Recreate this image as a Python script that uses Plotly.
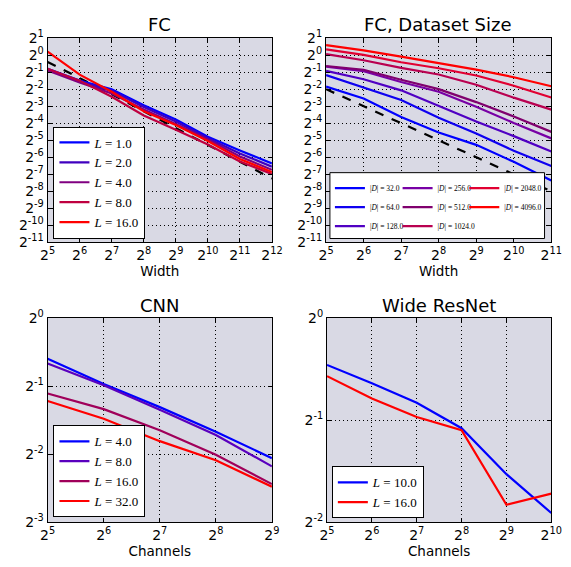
import numpy as np
import plotly.graph_objects as go

# ---------------- data (loss values read as log2 exponents) ----------------
fc_width = [32, 64, 128, 256, 512, 1024, 2048, 4096]
fc_L1 = [-0.80, -1.50, -2.00, -2.95, -3.78, -4.80, -5.60, -6.36]
fc_L2 = [-0.85, -1.55, -2.10, -3.05, -3.90, -4.88, -5.78, -6.55]
fc_L4 = [-0.90, -1.60, -2.25, -3.20, -4.05, -4.95, -5.95, -6.74]
fc_L8 = [-0.80, -1.50, -2.45, -3.55, -4.38, -5.25, -6.25, -6.98]
fc_L16 = [0.20, -1.15, -2.15, -3.30, -4.10, -5.05, -6.10, -6.87]
fc_ref = [-0.40, -1.35, -2.30, -3.30, -4.30, -5.25, -6.25, -7.25]
fc_labels = ["1.0", "2.0", "4.0", "8.0", "16.0"]

ds_width = [32, 64, 128, 256, 512, 1024, 2048]
ds_D32 = [-1.85, -2.55, -3.64, -4.55, -5.27, -6.27, -7.36]
ds_D64 = [-1.17, -1.92, -2.64, -3.68, -4.61, -5.62, -6.51]
ds_D128 = [-0.92, -1.42, -2.07, -3.00, -3.90, -4.76, -5.66]
ds_D256 = [-0.68, -0.94, -1.58, -2.15, -3.03, -3.99, -4.89]
ds_D512 = [-0.64, -0.86, -1.45, -2.00, -2.76, -3.60, -4.51]
ds_D1024 = [0.06, -0.30, -0.75, -1.14, -1.74, -2.50, -3.20]
ds_D2048 = [0.34, 0.01, -0.42, -0.77, -1.20, -1.80, -2.49]
ds_D4096 = [0.585, 0.28, -0.09, -0.47, -0.85, -1.30, -1.83]
ds_ref = [-2, -3, -4, -5, -6, -7, -8]
ds_labels = ["32.0", "64.0", "128.0", "256.0", "512.0", "1024.0", "2048.0", "4096.0"]

cnn_channels = [32, 64, 128, 256, 512]
cnn_L4 = [-0.60, -0.97, -1.31, -1.67, -2.06]
cnn_L8 = [-0.67, -0.99, -1.35, -1.72, -2.18]
cnn_L16 = [-1.11, -1.34, -1.65, -2.01, -2.44]
cnn_L32 = [-1.22, -1.48, -1.81, -2.09, -2.48]
cnn_labels = ["4.0", "8.0", "16.0", "32.0"]

wrn_channels = [32, 64, 128, 256, 512, 1024]
wrn_L10 = [-0.46, -0.64, -0.83, -1.08, -1.53, -1.91]
wrn_L16 = [-0.57, -0.79, -0.97, -1.10, -1.83, -1.72]
wrn_labels = ["10.0", "16.0"]

# ---------------- styling ----------------
W, H = 571, 567
BG = "rgb(217,217,228)"
SANS = "DejaVu Sans"
SERIF = "Liberation Serif"

fc_colors = ["rgb(0,0,255)", "rgb(64,0,191)", "rgb(128,0,128)", "rgb(191,0,64)", "rgb(255,0,0)"]
ds_colors = ["rgb(0,0,255)", "rgb(15,0,240)", "rgb(80,0,195)", "rgb(120,0,165)",
             "rgb(128,0,110)", "rgb(185,0,80)", "rgb(225,0,50)", "rgb(255,0,0)"]
cnn_colors = ["rgb(0,0,255)", "rgb(90,0,190)", "rgb(160,0,90)", "rgb(255,0,0)"]
wrn_colors = ["rgb(0,0,255)", "rgb(255,0,0)"]


def px_x(p):
    return p / W


def px_y(p):
    return 1 - p / H


fig = go.Figure()


def add_line(xs, ys_log2, name, color, ax, legend=None, dash=None):
    fig.add_trace(go.Scatter(
        x=xs, y=[2.0 ** v for v in ys_log2], mode="lines", name=name,
        line=dict(color=color, width=2.2, dash=dash),
        xaxis="x" + ax, yaxis="y" + ax,
        showlegend=legend is not None, legend=legend or "legend",
        hoverinfo="skip"))


# FC
fc_series = [fc_L1, fc_L2, fc_L4, fc_L8, fc_L16]
add_line(fc_width, fc_ref, "ref", "black", "", dash="dash")
for s, lab, c in zip(fc_series, fc_labels, fc_colors):
    add_line(fc_width, s, "<i>L</i> = " + lab, c, "", legend="legend")

# FC dataset size
ds_series = [ds_D32, ds_D64, ds_D128, ds_D256, ds_D512, ds_D1024, ds_D2048, ds_D4096]
ds_legends = ["legend2"] * 3 + ["legend3"] * 3 + ["legend4"] * 2
add_line(ds_width, ds_ref, "ref", "black", "2", dash="dash")
for s, lab, c, lg in zip(ds_series, ds_labels, ds_colors, ds_legends):
    add_line(ds_width, s, "|<i>D</i>| = " + lab, c, "2", legend=lg)

# CNN
for s, lab, c in zip([cnn_L4, cnn_L8, cnn_L16, cnn_L32], cnn_labels, cnn_colors):
    add_line(cnn_channels, s, "<i>L</i> = " + lab, c, "3", legend="legend5")

# WRN
for s, lab, c in zip([wrn_L10, wrn_L16], wrn_labels, wrn_colors):
    add_line(wrn_channels, s, "<i>L</i> = " + lab, c, "4", legend="legend6")


def pow_ticks(lo, hi):
    vals = [2.0 ** k for k in range(lo, hi + 1)]
    text = ["2<sup>%d</sup>" % k for k in range(lo, hi + 1)]
    return vals, text


def axis(domain, lo, hi, title=None):
    vals, text = pow_ticks(lo, hi)
    d = dict(
        type="log", domain=domain,
        range=[lo * np.log10(2), hi * np.log10(2)],
        tickmode="array", tickvals=vals, ticktext=text,
        tickfont=dict(family=SANS, size=14, color="black"),
        ticks="inside", ticklen=4, tickcolor="black",
        showline=True, linecolor="black", linewidth=1, mirror="ticks",
        showgrid=True, gridcolor="black", gridwidth=1, griddash="1px,3px",
        zeroline=False, fixedrange=True,
    )
    if title:
        d["title"] = dict(text=title, font=dict(family=SANS, size=13.5, color="black"), standoff=4)
    return d


xl = [px_x(41), px_x(273)]
xr2 = [px_x(329), px_x(562)]
xr4 = [px_x(330), px_x(562)]
yt = [px_y(240), px_y(29)]
yb = [px_y(529), px_y(318)]

layout = dict(
    width=W, height=H,
    margin=dict(l=0, r=0, t=0, b=0),
    paper_bgcolor="white", plot_bgcolor=BG,
    xaxis=axis(xl, 5, 12, "Width"), yaxis=axis(yt, -11, 1),
    xaxis2=axis(xr2, 5, 11, "Width"), yaxis2=axis(yt, -11, 1),
    xaxis3=axis(xl, 5, 9, "Channels"), yaxis3=axis(yb, -3, 0),
    xaxis4=axis(xr4, 5, 10, "Channels"), yaxis4=axis(yb, -2, 0),
)
for k in ["xaxis", "xaxis2", "xaxis3", "xaxis4"]:
    layout[k]["anchor"] = "y" + k[5:]
for k in ["yaxis", "yaxis2", "yaxis3", "yaxis4"]:
    layout[k]["anchor"] = "x" + k[5:]

big_leg = dict(bgcolor="white", bordercolor="black", borderwidth=1,
               font=dict(family=SERIF, size=13, color="black"),
               xanchor="left", yanchor="bottom", orientation="v")
small_leg = dict(bgcolor="rgba(0,0,0,0)", borderwidth=0,
                 font=dict(family=SERIF, size=7.5, color="black"),
                 xanchor="left", yanchor="top", orientation="v")
layout["legend"] = dict(big_leg, x=px_x(47), y=px_y(236))
layout["legend2"] = dict(small_leg, x=px_x(333), y=px_y(169))
layout["legend3"] = dict(small_leg, x=px_x(403), y=px_y(169))
layout["legend4"] = dict(small_leg, x=px_x(472), y=px_y(169))
layout["legend5"] = dict(big_leg, x=px_x(47), y=px_y(524))
layout["legend6"] = dict(big_leg, x=px_x(335), y=px_y(525))

layout["shapes"] = [dict(type="rect", xref="paper", yref="paper",
                         x0=px_x(333), x1=px_x(555), y0=px_y(236), y1=px_y(168),
                         fillcolor="white", line=dict(color="black", width=1),
                         layer="above")]

titles = [("FC", 157, 15), ("FC, Dataset Size", 445, 15), ("CNN", 157, 305), ("Wide ResNet", 446, 305)]
layout["annotations"] = [dict(text=t, x=px_x(x), y=px_y(y), xref="paper", yref="paper",
                              showarrow=False, xanchor="center", yanchor="middle",
                              font=dict(family=SANS, size=18, color="black"))
                         for t, x, y in titles]

fig.update_layout(**layout)
fig.write_html("out.html", config={"displayModeBar": False},
               post_script="document.body.style.margin='0px';")
